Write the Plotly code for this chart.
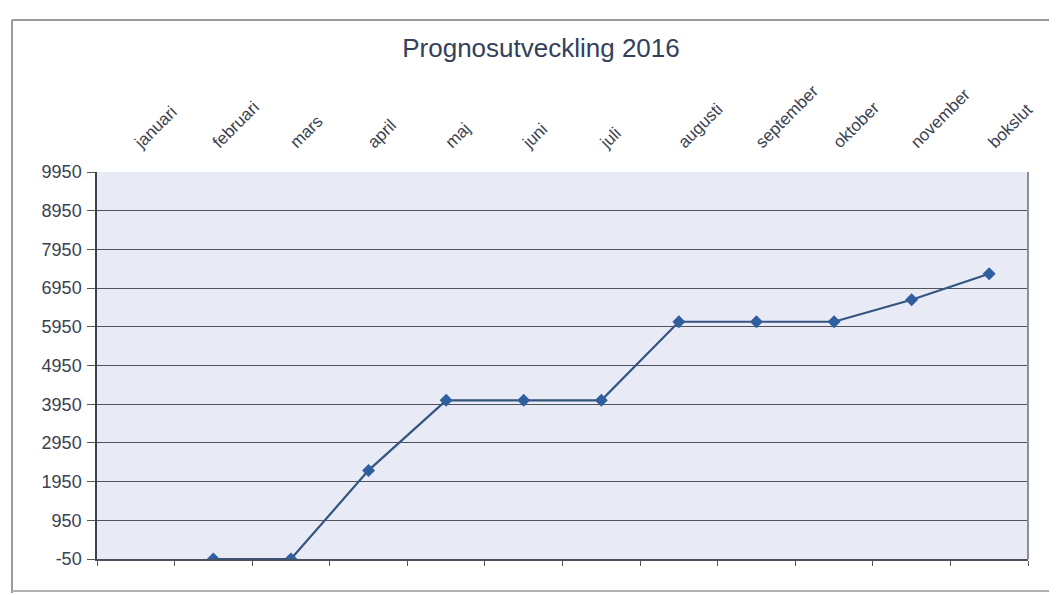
import plotly.graph_objects as go

categories = ["januari", "februari", "mars", "april", "maj", "juni", "juli",
              "augusti", "september", "oktober", "november", "bokslut"]
values = [None, -50, -50, 2240, 4050, 4050, 4050, 6080, 6080, 6080, 6650, 7320]
y_ticks = [-50, 950, 1950, 2950, 3950, 4950, 5950, 6950, 7950, 8950, 9950]

OFF = 8  # default page body margin
W, H = 1057 - OFF, 595 - OFF
L, R, T, B = 97 - OFF, 29, 172 - OFF, 36
pw, ph = W - L - R, H - T - B

def px(x):
    return (x - OFF - L) / pw

def py(y):
    return (H - B - (y - OFF)) / ph

fig = go.Figure()
fig.add_trace(go.Scatter(
    x=categories, y=values, mode="lines+markers",
    line=dict(color="#34557f", width=2.2),
    marker=dict(symbol="diamond", size=10, color="#2f5f9e"),
    connectgaps=False, showlegend=False, xaxis="x", yaxis="y",
))
# label-only companion trace for the top category axis
fig.add_trace(go.Scatter(
    x=categories, y=values, mode="markers", marker=dict(opacity=0),
    hoverinfo="skip", showlegend=False, xaxis="x2", yaxis="y",
))

fig.update_layout(
    width=W, height=H,
    margin=dict(l=L, r=R, t=T, b=B),
    paper_bgcolor="white",
    plot_bgcolor="#e8eaf6",
    font=dict(family="Liberation Sans, Arial, sans-serif", color="#3a4150"),
    title=dict(text="Prognosutveckling 2016", x=(541 - OFF) / W, xanchor="center",
               y=1 - (48 - OFF) / H, yanchor="middle",
               font=dict(size=26, color="#33405a")),
    xaxis=dict(
        type="category", categoryorder="array", categoryarray=categories,
        range=[-0.5, 11.5], showticklabels=False, showgrid=False,
        ticks="outside", tickson="boundaries", ticklen=5, tickcolor="#555",
        showline=True, linecolor="#4a4f5c", linewidth=1.5,
        zeroline=False, fixedrange=True,
    ),
    xaxis2=dict(
        type="category", categoryorder="array", categoryarray=categories,
        range=[-0.5, 11.5], overlaying="x", side="top",
        showgrid=False, ticks="", showline=False, tickangle=-45,
        ticklabelstandoff=16,
        tickfont=dict(size=17, color="#3a4150"), zeroline=False,
    ),
    yaxis=dict(
        range=[-50, 9950], tickvals=y_ticks,
        ticktext=[str(v) for v in y_ticks],
        showgrid=True, gridcolor="#4e535e", gridwidth=1.4,
        ticks="outside", ticklen=8, tickcolor="#555",
        showline=True, linecolor="#3d4250", linewidth=1.5,
        ticklabelstandoff=2,
        tickfont=dict(size=18, color="#3a4150"), zeroline=False,
    ),
    shapes=[
        # right edge of plot area
        dict(type="line", xref="paper", yref="paper", x0=1, x1=1, y0=0, y1=1,
             line=dict(color="#8a8e98", width=2)),
        # outer chart border
        dict(type="line", xref="paper", yref="paper",
             x0=px(12), x1=px(1057), y0=py(20), y1=py(20),
             line=dict(color="#9a9a9a", width=2)),
        dict(type="line", xref="paper", yref="paper",
             x0=px(12), x1=px(12), y0=py(20), y1=py(593),
             line=dict(color="#9a9a9a", width=2)),
        dict(type="line", xref="paper", yref="paper",
             x0=px(12), x1=px(1057), y0=py(591), y1=py(591),
             line=dict(color="#b0b0b0", width=2)),
    ],
)

fig.write_html("out.html")
